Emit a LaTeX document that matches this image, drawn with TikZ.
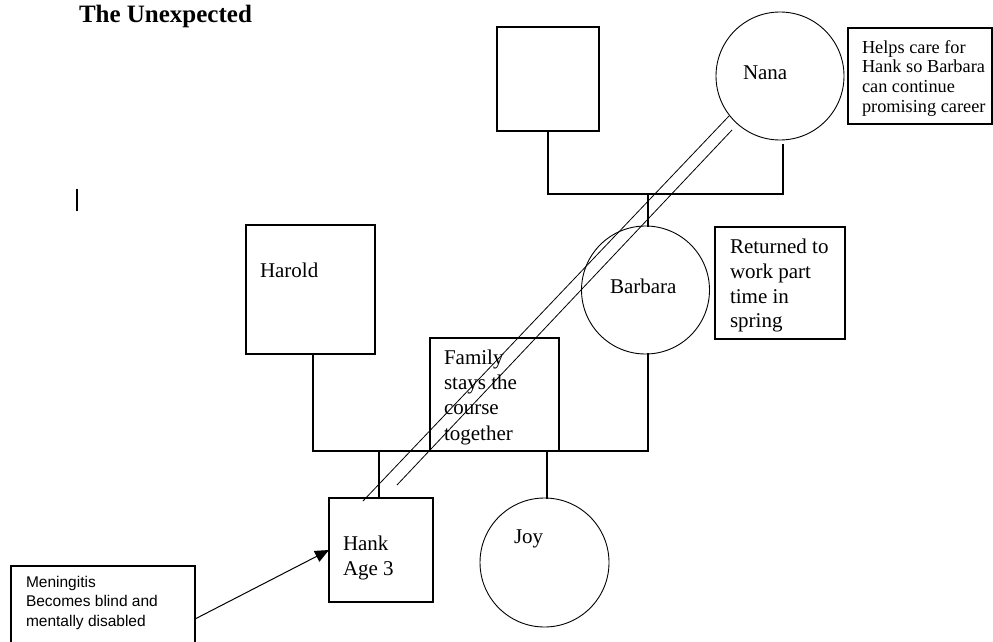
\documentclass[tikz,border=0pt]{standalone}
\usepackage{fontspec}
\setmainfont{Liberation Serif}
\newfontfamily\notefont{Liberation Sans}
\usetikzlibrary{arrows.meta}

\tikzset{
  rel/.style={line width=1.1pt, line cap=rect},
  male/.style={draw, line width=1.1pt, rectangle, anchor=north west, inner sep=0pt, outer sep=0pt},
  female/.style={draw, line width=0.9pt, circle, inner sep=0pt, outer sep=0pt, minimum size=128pt},
  notebox/.style={draw, line width=1.1pt, rectangle, anchor=north west, inner sep=0pt, outer sep=0pt},
  txt/.style={anchor=base west, inner sep=0pt, outer sep=0pt},
  lbl/.style={txt, font=\fontsize{21}{25}\selectfont},
  cutoff/.style={line width=0.8pt},
}

\begin{document}
\begin{tikzpicture}[x=1pt, y=-1pt]
\useasboundingbox (0,0) rectangle (993,642);

% heading and the stray text cursor beneath it
\node[txt, font=\fontsize{25}{28}\selectfont\bfseries] (title) at (79,23) {The Unexpected};
\draw[line width=2pt] (77,189) -- (77,211);

% grandparents
\node[male, minimum width=102pt, minimum height=104pt] (grandpa) at (497,27) {};
\node[female] (nana) at (780,76) {};
\node[lbl] (nananame) at (743,80) {Nana};

\node[notebox, minimum width=144pt, minimum height=96pt] (nananote) at (848,28) {};
\begin{scope}[every node/.style={txt, font=\fontsize{18.3}{19}\selectfont}]
  \node (nn1) at (862,53.5)  {Helps care for};
  \node (nn2) at (862,73)    {Hank so Barbara};
  \node (nn3) at (862,92.5)  {can continue};
  \node (nn4) at (862,112)   {promising career};
\end{scope}

% grandparents' marriage line and descent to Barbara
\coordinate (gpL) at (548,194);
\coordinate (gpC) at (648,194);
\coordinate (gpR) at (783,194);
\draw[rel] (grandpa.south -| gpL) -- (gpL) -- (gpR) -- ([yshift=-5pt]nana.south -| gpR);
\draw[rel] (gpC) -- (gpC |- 0,226);

% parents
\node[male, minimum width=129pt, minimum height=129pt] (harold) at (246,225) {};
\node[lbl] (haroldname) at (260,277) {Harold};

\node[female] (barbara) at (645.5,290) {};
\node[lbl] (barbaraname) at (610,293) {Barbara};

\node[notebox, minimum width=130pt, minimum height=112pt] (barbnote) at (715,227) {};
\begin{scope}[every node/.style={lbl}]
  \node (bn1) at (730,253) {Returned to};
  \node (bn2) at (730,278) {work part};
  \node (bn3) at (730,303) {time in};
  \node (bn4) at (730,327) {spring};
\end{scope}

% parents' marriage line with the family note resting on it
\coordinate (pL) at (313,451);
\coordinate (pR) at (648,451);
\draw[rel] (harold.south -| pL) -- (pL) -- (pR) -- (barbara.south -| pR);

\node[notebox, minimum width=129pt, minimum height=113pt] (famnote) at (430,338) {};
\begin{scope}[every node/.style={lbl}]
  \node (fn1) at (444,364) {Family};
  \node (fn2) at (444,389) {stays the};
  \node (fn3) at (444,414) {course};
  \node (fn4) at (444,440) {together};
\end{scope}

% children
\node[male, minimum width=104pt, minimum height=104pt] (hank) at (329,498) {};
\node[lbl] (hankname) at (343,550) {Hank};
\node[lbl] (hankage) at (343,575) {Age 3};

\node[female, minimum size=129pt] (joy) at (544.5,562.5) {};
\node[lbl] (joyname) at (514,543) {Joy};

\coordinate (cH) at (379,451);
\coordinate (cJ) at (547,451);
\draw[rel] (cH) -- (hank.north -| cH);
\draw[rel] (cJ) -- (joy.north -| cJ);

% double line from Nana down to Hank
\coordinate (dA1) at (729,116);
\coordinate (dA2) at (363,501);
\coordinate (dB1) at (732,130);
\coordinate (dB2) at (397,485);
\draw[cutoff] (dA1) -- (dA2);
\draw[cutoff] (dB1) -- (dB2);

% illness note pointing at Hank
\node[notebox, minimum width=184pt, minimum height=94pt] (illness) at (11,566) {};
\begin{scope}[every node/.style={txt, font=\notefont\fontsize{15.5}{19}\selectfont}]
  \node (in1) at (26,587) {Meningitis};
  \node (in2) at (26,606) {Becomes blind and};
  \node (in3) at (26,626) {mentally disabled};
\end{scope}
\draw[line width=1pt, -{Triangle[length=14pt, width=12pt]}] ([yshift=-6pt]illness.east) -- (hank.west);
\end{tikzpicture}
\end{document}
